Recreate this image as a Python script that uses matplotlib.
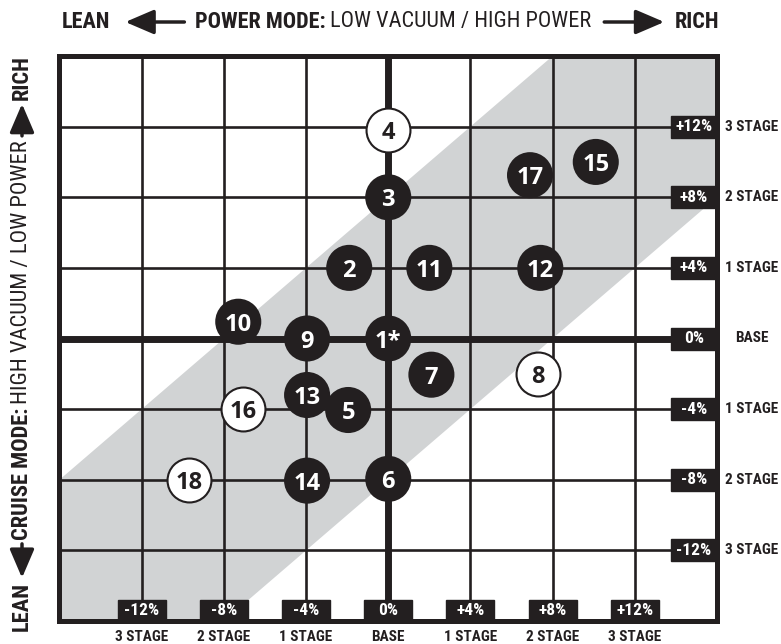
import matplotlib
matplotlib.use("Agg")
import matplotlib.pyplot as plt
from matplotlib import font_manager
from matplotlib.patches import Rectangle

# Datos del gráfico
grid_vals = [-12, -8, -4, 0, 4, 8, 12]
pct_labels = ["-12%", "-8%", "-4%", "0%", "+4%", "+8%", "+12%"]
stage_labels = ["3 STAGE", "2 STAGE", "1 STAGE", "BASE", "1 STAGE", "2 STAGE", "3 STAGE"]
band_half = 8

pt_labels = ["1*", "2", "3", "4", "5", "6", "7", "8", "9",
             "10", "11", "12", "13", "14", "15", "16", "17", "18"]
pt_x = [0, -1.9, 0, 0, -1.95, 0, 2.1, 7.3, -3.95,
        -7.3, 2.0, 7.4, -3.95, -3.95, 10.1, -7.05, 6.9, -9.7]
pt_y = [0, 4.0, 8.0, 11.8, -4.05, -7.95, -2.05, -2.0, 0,
        0.95, 4.0, 4.0, -3.2, -8.05, 10.0, -4.0, 9.25, -8.0]
pt_open = [False, False, False, True, False, False, False, True, False,
           False, False, False, False, False, False, True, False, True]

BLACK = "#231f20"
GRAY = "#d1d3d4"

# buscar una fuente estrecha
fonts = font_manager.fontManager.ttflist
names = {f.name for f in fonts}
COND = dict(family="Roboto" if "Roboto" in names else "DejaVu Sans")
for cand in ["Liberation Sans Narrow", "Roboto Condensed", "DejaVu Sans Condensed"]:
    if cand in names:
        COND = dict(family=cand)
        break
else:
    for f in fonts:
        if f.name in ("Roboto", "DejaVu Sans") and "condensed" in str(f.stretch).lower():
            COND = dict(family=f.name, stretch="condensed")
            break
NUM = "Open Sans" if "Open Sans" in names else "DejaVu Sans"

W, H = 781, 644
fig = plt.figure(figsize=(W / 100, H / 100), dpi=100)
r = fig.canvas.get_renderer()
x0, x1, y0, y1 = 59.5, 717, 56, 621
ax = fig.add_axes([x0 / W, 1 - y1 / H, (x1 - x0) / W, (y1 - y0) / H])
ax.set_xlim(-16, 16)
ax.set_ylim(-16, 16)
ax.set_xticks([])
ax.set_yticks([])
for s in ax.spines.values():
    s.set_linewidth(3.6)
    s.set_color(BLACK)
    s.set_zorder(6)


def text_w(s, size, bold=True):
    t = fig.text(0, 0, s, fontsize=size, fontweight="bold" if bold else "normal", **COND)
    w = t.get_window_extent(r).width
    t.remove()
    return w


def fit(strings, target, bold=True):
    w = max(text_w(s, 20, bold) for s in strings)
    return 20 * target / w


# banda gris diagonal
ax.fill_between([-16, 16], [-16 - band_half, 16 - band_half],
                [-16 + band_half, 16 + band_half], color=GRAY, lw=0, zorder=0)

# rejilla
for v in grid_vals:
    lw = 5 if v == 0 else 1.9
    ax.axvline(v, color=BLACK, lw=lw, zorder=2)
    ax.axhline(v, color=BLACK, lw=lw, zorder=2)

# cajas de porcentaje
px_x = 32 / (x1 - x0)
px_y = 32 / (y1 - y0)
bw, bh = 46 * px_x, 22 * px_y
bw2, bh2 = 48 * px_x, 21 * px_y
pct_size = min(fit(pct_labels, 41), 12.5)
st_size = min(fit(["3 STAGE"], 55), 11)
for v, lab, st in zip(grid_vals, pct_labels, stage_labels):
    # derecha
    ax.add_patch(Rectangle((16 - bw, v - bh / 2), bw, bh, color=BLACK, zorder=5, clip_on=False))
    ax.text(16 - bw / 2, v, lab, color="white", fontsize=pct_size, fontweight="bold",
            ha="center", va="center", zorder=7, **COND)
    ax.text((752 - x0) / (x1 - x0), v, st, transform=ax.get_yaxis_transform(),
            fontsize=st_size, fontweight="bold", color=BLACK,
            ha="center", va="center", clip_on=False, **COND)
    # abajo
    ax.add_patch(Rectangle((v - bw2 / 2, -16), bw2, bh2, color=BLACK, zorder=5, clip_on=False))
    ax.text(v, -16 + bh2 / 2, lab, color="white", fontsize=pct_size, fontweight="bold",
            ha="center", va="center", zorder=7, **COND)
    ax.text(v, (y1 - 637) / (y1 - y0), st, transform=ax.get_xaxis_transform(),
            fontsize=st_size, fontweight="bold", color=BLACK,
            ha="center", va="center", clip_on=False, **COND)

# puntos
for lab, x, y, op in zip(pt_labels, pt_x, pt_y, pt_open):
    if op:
        ax.scatter([x], [y], s=1000, facecolor="white", edgecolor=BLACK, linewidth=1.5, zorder=8)
        c = BLACK
    else:
        ax.scatter([x], [y], s=1100, facecolor=BLACK, edgecolor="none", zorder=8)
        c = "white"
    ax.text(x, y, lab, color=c, fontsize=17, fontweight="bold", family=NUM,
            ha="center", va="center_baseline", zorder=9)


# títulos con flechas
def arrow(p0, p1):
    ax.annotate("", xy=p1, xytext=p0, xycoords="figure pixels", textcoords="figure pixels",
                arrowprops=dict(arrowstyle="-|>,head_length=0.7,head_width=0.3",
                                lw=2.5, color=BLACK, mutation_scale=25, shrinkA=0, shrinkB=0))


def title_line(items, start, end, cross, vertical):
    # items: (texto, negrita) o ("ARROW", largo, signo) o ("GAP", px)
    texts = [it for it in items if it[0] not in ("ARROW", "GAP")]
    fixed = sum(it[1] for it in items if it[0] in ("ARROW", "GAP"))
    w20 = sum(text_w(s, 20, b) for s, b in texts)
    size = min(20 * (end - start - fixed) / w20, 18)
    pos = start
    for it in items:
        if it[0] == "GAP":
            pos += it[1]
        elif it[0] == "ARROW":
            a, b = (pos, pos + it[1]) if it[2] > 0 else (pos + it[1], pos)
            if vertical:
                arrow((cross, H - a), (cross, H - b))
            else:
                arrow((a, cross), (b, cross))
            pos += it[1]
        else:
            s, b = it
            w = text_w(s, size, b)
            if vertical:
                fig.text(cross / W, (H - pos - w / 2) / H, s, fontsize=size, rotation=90,
                         fontweight="bold" if b else "normal", color=BLACK,
                         ha="center", va="center", **COND)
            else:
                fig.text((pos + w / 2) / W, cross / H, s, fontsize=size,
                         fontweight="bold" if b else "normal", color=BLACK,
                         ha="center", va="center", **COND)
            pos += w


title_line([("LEAN", True), ("GAP", 15), ("ARROW", 59, -1), ("GAP", 11),
            ("POWER MODE:", True), ("GAP", 4), ("LOW VACUUM / HIGH POWER", False),
            ("GAP", 13), ("ARROW", 60, 1), ("GAP", 10), ("RICH", True)],
           62, 720, H - 22, False)

# vertical: se recorre de arriba (RICH) hacia abajo (LEAN)
title_line([("RICH", True), ("GAP", 4), ("ARROW", 32, -1), ("GAP", 4),
            ("HIGH VACUUM / LOW POWER", False), ("GAP", 4), ("CRUISE MODE:", True),
            ("GAP", 4), ("ARROW", 34, 1), ("GAP", 4), ("LEAN", True)],
           55, 632, 22, True)

fig.savefig("out.png", dpi=100)
